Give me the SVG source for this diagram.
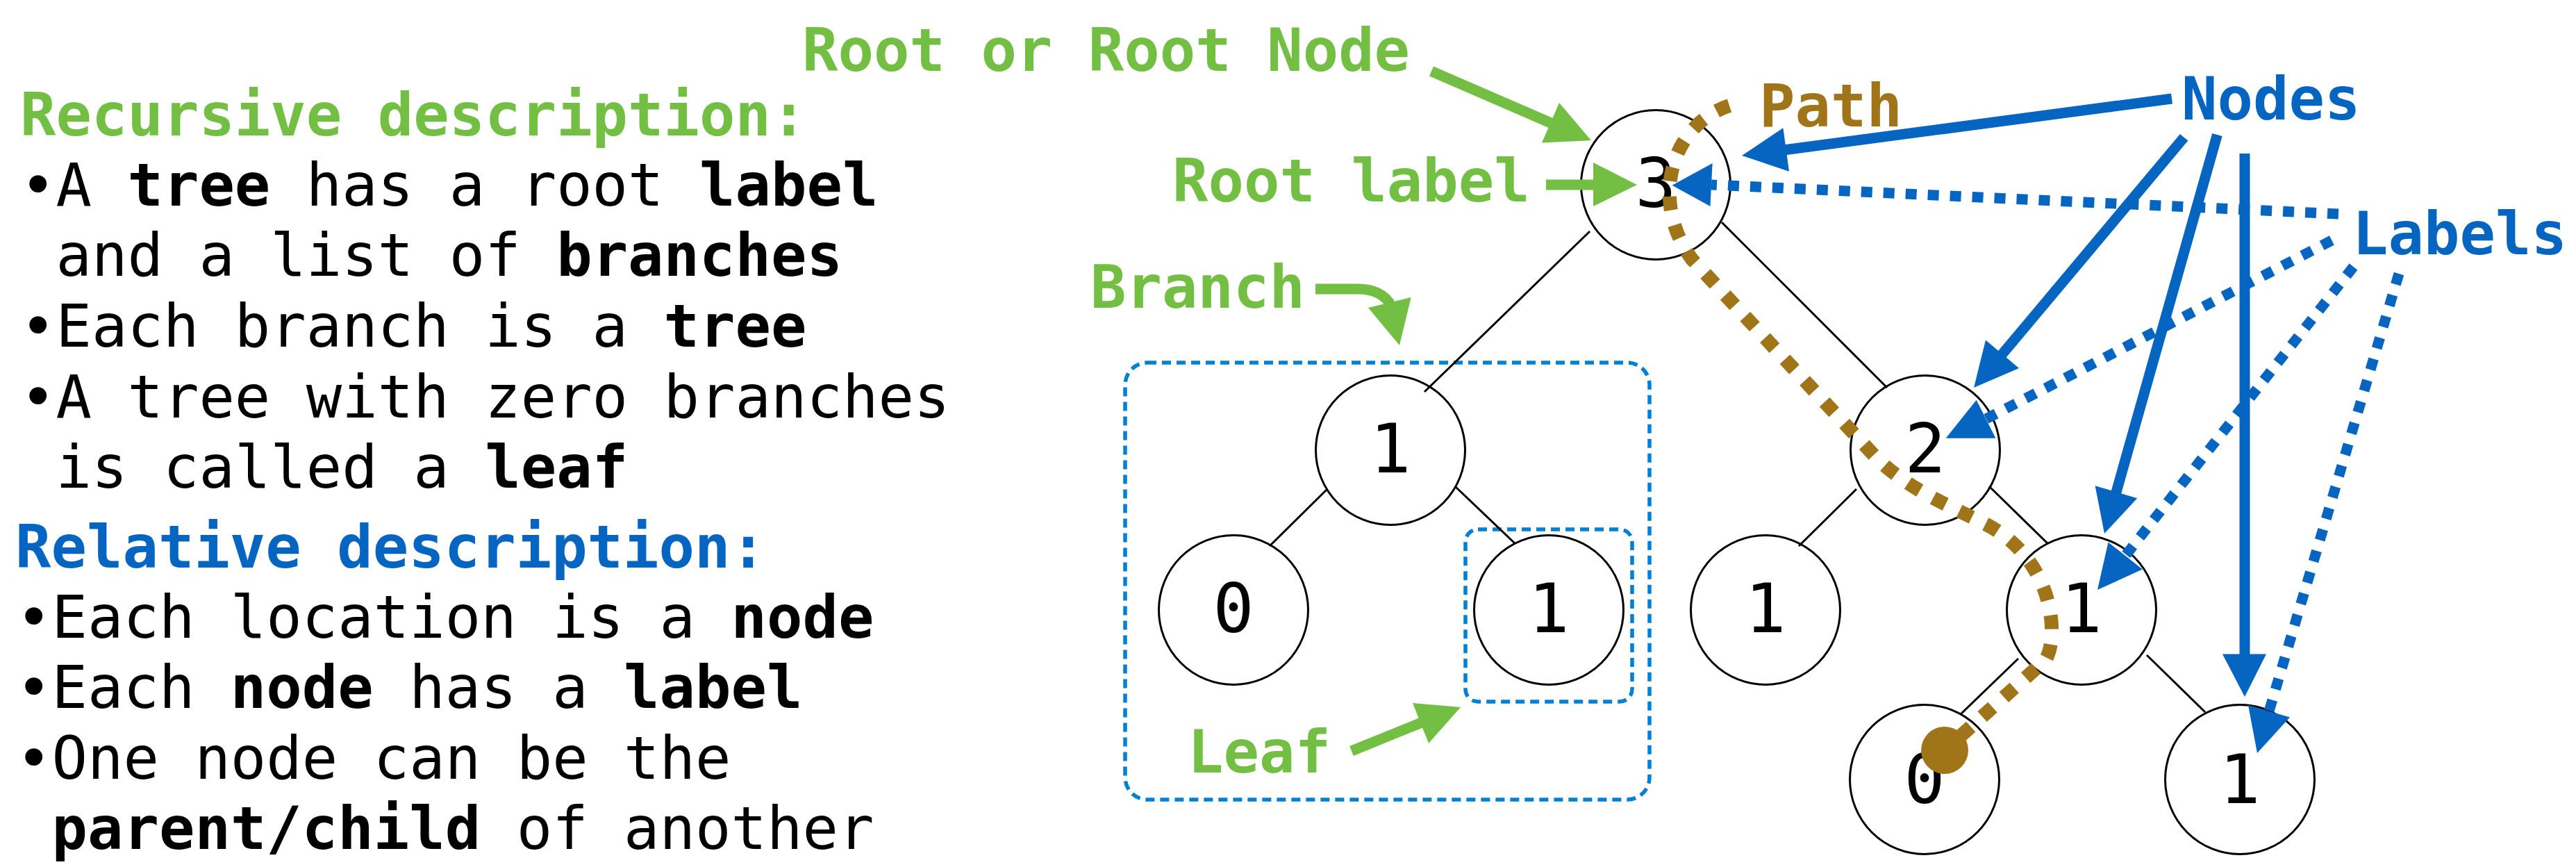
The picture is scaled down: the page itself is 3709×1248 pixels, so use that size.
<svg xmlns="http://www.w3.org/2000/svg" width="3709" height="1248" viewBox="0 0 3709 1248">
<style>
text{font-family:"DejaVu Sans Mono","Liberation Mono",monospace;font-size:85.5px}
.bold,.lbl{font-weight:bold}
.num{font-size:98px;text-anchor:middle;fill:#000}
.green{fill:#72BF44}
.blue{fill:#0565C0}
.brown{fill:#A0751A}
.node{fill:none;stroke:#000;stroke-width:3}
.edge{stroke:#000;stroke-width:3;fill:none}
.box{fill:none;stroke:#0080D5;stroke-width:5.5;stroke-dasharray:13 8}
.gs{stroke:#72BF44;stroke-width:15;fill:none}
.gh{fill:#72BF44}
.bs{stroke:#0565C0;stroke-width:15;fill:none}
.bd{stroke:#0565C0;stroke-width:15;fill:none;stroke-dasharray:16 16}
.bh{fill:#0565C0}
.path{stroke:#A0751A;stroke-width:20;fill:none;stroke-dasharray:20 22}
</style>

<g id="description">
<text class="lbl green" x="29" y="195">Recursive description:</text>
<text x="29" y="295.5">•A <tspan class="bold">tree</tspan> has a root <tspan class="bold">label</tspan></text>
<text x="80.5" y="397">and a list of <tspan class="bold">branches</tspan></text>
<text x="29" y="499">•Each branch is a <tspan class="bold">tree</tspan></text>
<text x="29" y="600.5">•A tree with zero branches</text>
<text x="80.5" y="701.5">is called a <tspan class="bold">leaf</tspan></text>
<text class="lbl blue" x="22" y="817">Relative description:</text>
<text x="23" y="918">•Each location is a <tspan class="bold">node</tspan></text>
<text x="23" y="1019">•Each <tspan class="bold">node</tspan> has a <tspan class="bold">label</tspan></text>
<text x="23" y="1121">•One node can be the</text>
<text x="74.5" y="1222"><tspan class="bold">parent/child</tspan> of another</text>
</g>

<g id="boxes">
<rect id="branch-box" class="box" x="1620" y="522" width="755" height="629" rx="32"/>
<rect id="leaf-box" class="box" x="2110" y="762" width="240" height="248" rx="18"/>
</g>

<g id="edges">
<line class="edge" x1="2289" y1="333" x2="2051" y2="564"/>
<line class="edge" x1="2479" y1="320" x2="2717" y2="558"/>
<line class="edge" x1="1910" y1="705" x2="1828" y2="786"/>
<line class="edge" x1="2096" y1="701" x2="2181" y2="782"/>
<line class="edge" x1="2673" y1="704" x2="2590" y2="786"/>
<line class="edge" x1="2864" y1="700" x2="2949" y2="783"/>
<line class="edge" x1="2906" y1="948" x2="2823" y2="1028"/>
<line class="edge" x1="3091" y1="943" x2="3175" y2="1025"/>
</g>

<g id="n-root"><circle class="node" cx="2384" cy="266" r="107.5"/><text class="num" x="2384" y="298">3</text></g>
<g id="n-a"><circle class="node" cx="2002" cy="648" r="107.5"/><text class="num" x="2002" y="680">1</text></g>
<g id="n-b"><circle class="node" cx="2772" cy="648" r="107.5"/><text class="num" x="2772" y="680">2</text></g>
<g id="n-aa"><circle class="node" cx="1776" cy="878" r="107.5"/><text class="num" x="1776" y="910">0</text></g>
<g id="n-ab"><circle class="node" cx="2230" cy="878" r="107.5"/><text class="num" x="2230" y="910">1</text></g>
<g id="n-ba"><circle class="node" cx="2542" cy="878" r="107.5"/><text class="num" x="2542" y="910">1</text></g>
<g id="n-bb"><circle class="node" cx="2997" cy="878" r="107.5"/><text class="num" x="2997" y="910">1</text></g>
<g id="n-bba"><circle class="node" cx="2771" cy="1122" r="107.5"/><text class="num" x="2771" y="1156">0</text></g>
<g id="n-bbb"><circle class="node" cx="3225" cy="1122" r="107.5"/><text class="num" x="3225" y="1156">1</text></g>

<g id="path-annotation">
<path class="path" d="M 2490 152 C 2405 180, 2375 290, 2436 373 L 2697 654 C 2740 700, 2800 725, 2850 750 C 2960 800, 2965 920, 2945 950 L 2810 1071"/>
<circle class="brown" cx="2800" cy="1080" r="34"/>
<text class="lbl brown" x="2533" y="182">Path</text>
</g>

<g id="connectors">
<g id="green-arrows">
<line class="gs" x1="2061" y1="102.5" x2="2234" y2="177.5"/>
<polygon class="gh" points="2291,202 2245,148 2220,205.5"/>
<line class="gs" x1="2226" y1="266" x2="2296" y2="266"/>
<polygon class="gh" points="2294,234 2357,266 2294,297"/>
<path class="gs" d="M 1894 416 L 1955 416 C 1975 416, 1993 422, 2003 440"/>
<polygon class="gh" points="2015,497 1970,443 2031.7,428"/>
<line class="gs" x1="1946" y1="1081" x2="2047" y2="1040"/>
<polygon class="gh" points="2103,1018 2034,1012 2057,1070"/>
</g>
<g id="node-arrows">
<line class="bs" x1="3127" y1="142" x2="2570" y2="215.7"/>
<polygon class="bh" points="2508,224 2567.4,184.3 2576,246.7"/>
<line class="bs" x1="3144.6" y1="197.8" x2="2881" y2="512"/>
<polygon class="bh" points="2842,558 2859,489.6 2907,530"/>
<line class="bs" x1="3192.4" y1="194" x2="3046" y2="712"/>
<polygon class="bh" points="3030,768 3016.6,699.2 3077.2,717.2"/>
<line class="bs" x1="3232" y1="221" x2="3232" y2="943"/>
<polygon class="bh" points="3232,1003 3200,941.4 3263,941.4"/>
</g>
<g id="label-arrows">
<line class="bd" x1="3367" y1="308" x2="2464" y2="266"/>
<polygon class="bh" points="2407.6,266.7 2465.6,235 2462.5,297"/>
<line class="bd" x1="3357.4" y1="346" x2="2859.5" y2="603"/>
<polygon class="bh" points="2801.7,630.7 2845.7,575.7 2873.4,630.7"/>
<line class="bd" x1="3388.5" y1="384" x2="3060" y2="800"/>
<polygon class="bh" points="3020,849 3035.5,780.4 3084.8,819.6"/>
<line class="bd" x1="3454" y1="394" x2="3267" y2="1023.7"/>
<polygon class="bh" points="3250,1084 3237,1015 3297,1032.5"/>
</g>
</g>

<g id="labels">
<text class="lbl green" x="1155" y="102">Root or Root Node</text>
<text class="lbl green" x="1688" y="290">Root label</text>
<text class="lbl green" x="1570" y="443">Branch</text>
<text class="lbl green" x="1710" y="1112">Leaf</text>
<text class="lbl blue" x="3141" y="172">Nodes</text>
<text class="lbl blue" x="3387" y="365.5">Labels</text>
</g>
</svg>
